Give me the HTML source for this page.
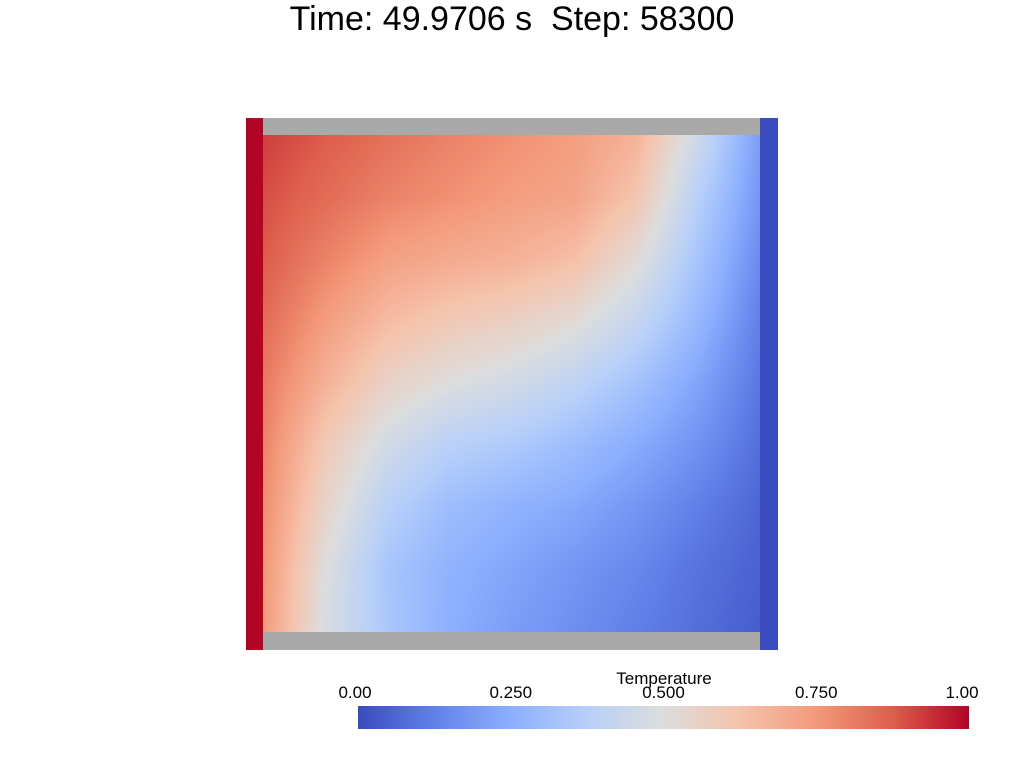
<!DOCTYPE html>
<html><head><meta charset="utf-8"><style>
body{margin:0;width:1024px;height:768px;background:#fff;position:relative;overflow:hidden;font-family:"Liberation Sans",sans-serif;}
.abs{position:absolute;}
.lbl{position:absolute;font-size:17px;color:#000;transform:translateX(-50%);top:683px;}
</style></head><body>
<div class="abs" style="left:0;width:1024px;top:0;text-align:center;font-size:34px;line-height:38px;">Time: 49.9706 s&nbsp; Step: 58300</div>
<div class="abs" style="left:246px;top:118px;width:17px;height:532px;background:#b40426"></div>
<div class="abs" style="left:760px;top:118px;width:18px;height:532px;background:#3b4cc0"></div>
<div class="abs" style="left:263px;top:118px;width:497px;height:17px;background:#a9a9a9"></div>
<div class="abs" style="left:263px;top:632px;width:497px;height:18px;background:#a9a9a9"></div>
<canvas id="field" class="abs" width="497" height="497" style="left:263px;top:135px"></canvas>
<div class="abs" style="left:664px;top:669px;transform:translateX(-50%);font-size:17px;">Temperature</div>
<canvas id="cbar" class="abs" width="611" height="23" style="left:358px;top:706px"></canvas>
<div id="ticks"></div>
<script>
const rowsY=[0,0.125,0.25,0.375,0.5,0.625,0.75,0.875,1];
const colsX=[0,0.125,0.25,0.375,0.5,0.625,0.75,0.875,1];
const temp=[
[0.92,0.88,0.84,0.80,0.77,0.74,0.68,0.45,0.20],
[0.90,0.85,0.80,0.77,0.74,0.72,0.62,0.38,0.18],
[0.88,0.80,0.73,0.70,0.68,0.64,0.52,0.33,0.15],
[0.85,0.74,0.65,0.60,0.57,0.52,0.42,0.28,0.12],
[0.82,0.68,0.56,0.50,0.46,0.40,0.32,0.22,0.10],
[0.80,0.60,0.46,0.38,0.35,0.30,0.24,0.17,0.08],
[0.78,0.55,0.38,0.30,0.26,0.23,0.18,0.12,0.06],
[0.76,0.50,0.33,0.26,0.22,0.18,0.14,0.09,0.05],
[0.75,0.48,0.34,0.25,0.20,0.16,0.12,0.08,0.04]];
const tickValues=[0,0.25,0.5,0.75,1];
const tickLabels=["0.00","0.250","0.500","0.750","1.00"];
const stops=[[59,76,192],[98,130,234],[141,176,254],[184,208,249],[221,221,221],[245,196,173],[244,154,123],[222,96,77],[180,4,38]];
function cmap(t){t=Math.max(0,Math.min(1,t));const f=t*8,i=Math.min(7,Math.floor(f)),u=f-i;const a=stops[i],b=stops[i+1];return [a[0]+(b[0]-a[0])*u,a[1]+(b[1]-a[1])*u,a[2]+(b[2]-a[2])*u];}
function seg(arr,v){let i=0;while(i<arr.length-2&&v>arr[i+1])i++;return [i,(v-arr[i])/(arr[i+1]-arr[i])];}
function sample(fx,fy){const [j,u]=seg(colsX,fx),[i,v]=seg(rowsY,fy);
const a=temp[i][j],b=temp[i][j+1],c=temp[i+1][j],d=temp[i+1][j+1];
return (a*(1-u)+b*u)*(1-v)+(c*(1-u)+d*u)*v;}
const fc=document.getElementById('field'),fctx=fc.getContext('2d');
const W=fc.width,H=fc.height,img=fctx.createImageData(W,H);
for(let y=0;y<H;y++)for(let x=0;x<W;x++){const c=cmap(sample(x/(W-1),y/(H-1)));const k=(y*W+x)*4;img.data[k]=c[0];img.data[k+1]=c[1];img.data[k+2]=c[2];img.data[k+3]=255;}
fctx.putImageData(img,0,0);
const cb=document.getElementById('cbar'),cctx=cb.getContext('2d');
for(let x=0;x<cb.width;x++){const c=cmap(x/(cb.width-1));cctx.fillStyle=`rgb(${c[0]|0},${c[1]|0},${c[2]|0})`;cctx.fillRect(x,0,1,cb.height);}
const tk=document.getElementById('ticks');
tickValues.forEach((v,i)=>{const d=document.createElement('div');


d.className='lbl';let x=358+v*611;if(i==0)x=355;if(i==tickValues.length-1)x=962;d.style.left=x+'px';d.textContent=tickLabels[i];tk.appendChild(d);});
</script>
</body></html>
